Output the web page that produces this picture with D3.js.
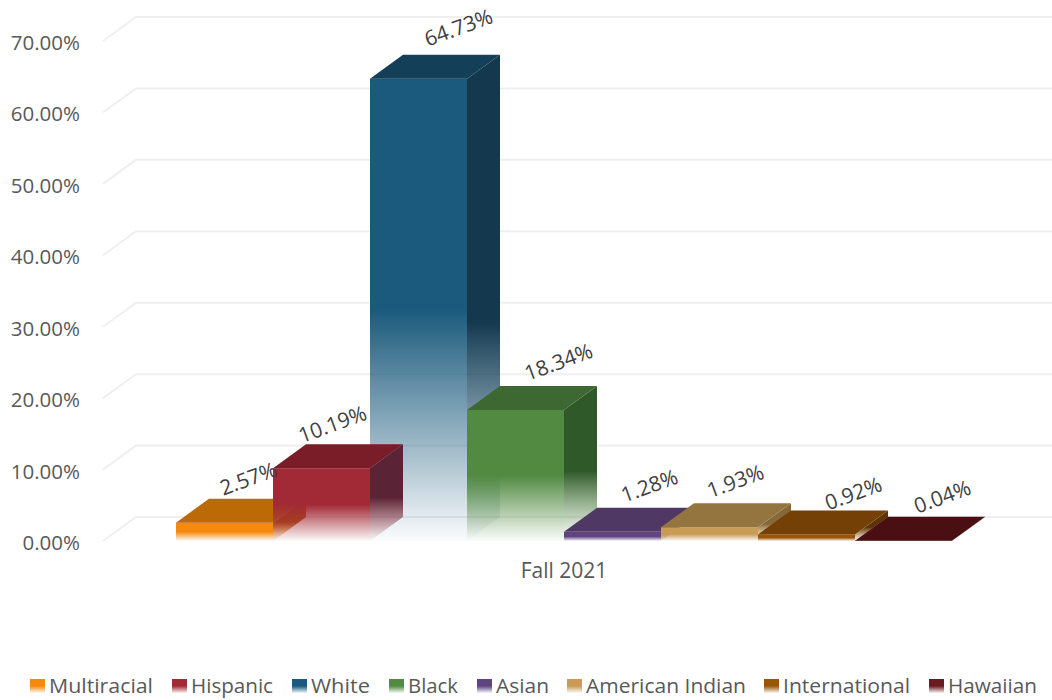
<!DOCTYPE html>
<html><head><meta charset="utf-8">
<script src="https://cdn.jsdelivr.net/npm/d3@7"></script>
<style>
html,body{margin:0;padding:0;background:#fff}
svg{display:block}
text{font-family:"Open Sans",sans-serif;fill:#595959}
</style></head><body>
<svg id="c" width="1052" height="700"></svg>
<script>
const categories = ["Multiracial","Hispanic","White","Black","Asian","American Indian","International","Hawaiian"];
const values = [2.57,10.19,64.73,18.34,1.28,1.93,0.92,0.04];
const period = ["Fall 2021"];
const yTicks = [0,10,20,30,40,50,60,70];
const frontColors = ["#f5890c","#a22a36","#1b5a7c","#528a42","#5e4580","#c99c56","#9a5608","#6a1a20"];
const topColors = ["#bc6a05","#7a1d28","#143f59","#3d6831","#4f3863","#94753f","#744005","#4a0f13"];
const sideColors = ["#a9520c","#5a2436","#14394f","#30592a","#3e2c50","#85693a","#5e3404","#3a0b0f"];
// paint order: Hispanic's side sits over White's front
const paintOrder = [0,2,1,3,4,5,6,7];
// label nudges (dx, dy) relative to the top-back centre of each bar
const labelNudge = [[-9,-20],[-22,-20],[7,-27],[10,-24],[4,-22],[-7,-22],[14,-17],[6,-20]];
const legendTextX = [49,191,311,408,496,586,783,948];
const legendTextW = [104,82,59,50,53,160,127,89];

const depthX = 33, depthY = 24;
const svg = d3.select("#c");
const y = d3.scaleLinear().domain([0,70]).range([541,41]);
const x = d3.scaleBand().domain(categories).range([176,952]);
const xOuter = d3.scaleBand().domain(period).range([176,952]);

// gradients
const defs = svg.append("defs");
function fade(id, col, endCol, solid, endOp){
  const g = defs.append("linearGradient").attr("id",id).attr("x1",0).attr("y1",0).attr("x2",0).attr("y2",1);
  g.append("stop").attr("offset",solid).attr("stop-color",col).attr("stop-opacity",1);
  g.append("stop").attr("offset",1).attr("stop-color",endCol).attr("stop-opacity",endOp);
}
categories.forEach((c,i)=>{
  fade("f"+i, frontColors[i], frontColors[i], 0.5, 0.02);
  fade("s"+i, sideColors[i], frontColors[i], 0.55, 0.0);
  fade("l"+i, frontColors[i], frontColors[i], 0.5, 0.05);
});

// gridlines
const grid = svg.append("g").attr("fill","none").attr("stroke","#efefef").attr("stroke-width",2);
grid.selectAll("path").data(yTicks).join("path")
  .attr("d",d=>`M103,${y(d)}L${103+depthX},${y(d)-depthY}L1052,${y(d)-depthY}`);

// axes
const yAxis = svg.append("g").attr("transform","translate(88,2)")
  .call(d3.axisLeft(y).tickValues(yTicks).tickSize(0).tickPadding(8).tickFormat(d=>d3.format(".2f")(d)+"%"));
yAxis.select(".domain").remove();
yAxis.selectAll("text").attr("font-size",20.5).attr("fill","#595959").attr("font-family","'Open Sans',sans-serif");

const xAxis = svg.append("g").attr("transform","translate(0,555)")
  .call(d3.axisBottom(xOuter).tickSize(0).tickPadding(8));
xAxis.select(".domain").remove();
xAxis.selectAll("text").attr("font-size",21).attr("fill","#595959").attr("font-family","'Open Sans',sans-serif");

// bars
const w = x.bandwidth();
paintOrder.forEach(i=>{
  const x0 = x(categories[i]), x1 = x0+w, t = y(values[i]), b = y(0);
  const g = svg.append("g");
  g.append("path").attr("fill",`url(#s${i})`)
    .attr("d",`M${x1},${t}L${x1+depthX},${t-depthY}L${x1+depthX},${b-depthY}L${x1},${b}Z`);
  g.append("rect").attr("x",x0).attr("y",t).attr("width",w).attr("height",Math.max(b-t,0))
    .attr("fill",`url(#f${i})`);
  g.append("path").attr("fill",topColors[i])
    .attr("d",`M${x0},${t}L${x0+depthX},${t-depthY}L${x1+depthX},${t-depthY}L${x1},${t}Z`);
});

// value labels
svg.append("g").selectAll("text").data(values).join("text")
  .attr("text-anchor","middle").attr("font-size",21).style("fill","#404040")
  .attr("transform",(d,i)=>{
    const cx = x(categories[i])+w/2+depthX+labelNudge[i][0];
    const cy = y(d)-depthY+labelNudge[i][1];
    return `translate(${cx},${cy}) rotate(-20)`;
  })
  .attr("dy","0.35em")
  .text(d=>d.toFixed(2)+"%");

// legend
const lg = svg.append("g");
categories.forEach((c,i)=>{
  lg.append("rect").attr("x",legendTextX[i]-19).attr("y",679).attr("width",15).attr("height",14).attr("fill",`url(#l${i})`);
  lg.append("text").attr("x",legendTextX[i]).attr("y",693).attr("font-size",20)
    .attr("textLength",legendTextW[i]).attr("lengthAdjust","spacingAndGlyphs").text(c);
});
</script>
</body></html>
